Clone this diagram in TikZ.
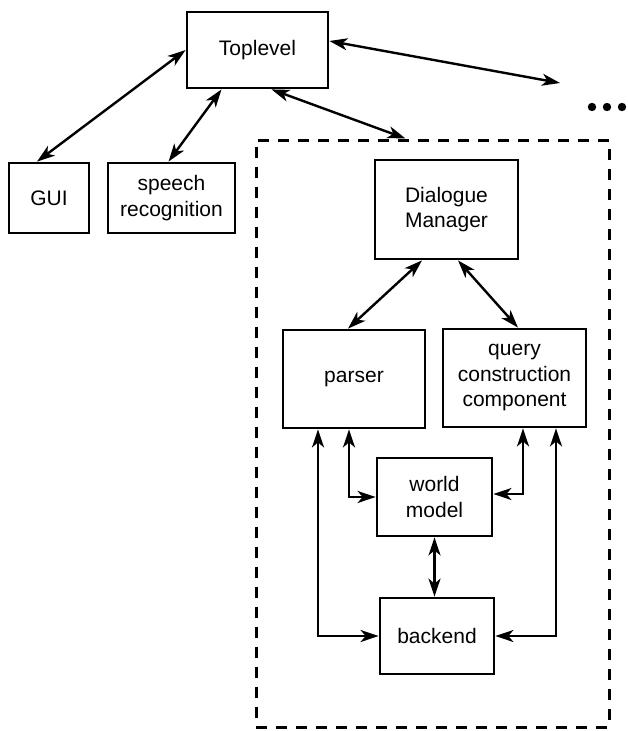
\documentclass[tikz,border=0pt]{standalone}
\usepackage{fontspec}
\setmainfont{Liberation Sans}
\usetikzlibrary{arrows.meta,calc}
\begin{document}
\begin{tikzpicture}[x=1pt,y=-1pt,
  box/.style={draw,line width=2.8pt,rectangle,inner sep=0pt,align=center,
    font=\fontsize{21}{25.5}\selectfont},
  conn/.style={line width=2.4pt,{Stealth[length=18pt,width=12pt,inset=5pt]}-{Stealth[length=18pt,width=12pt,inset=5pt]}},
  grp/.style={draw,line width=3pt,dash pattern=on 11pt off 9pt,rectangle,inner sep=0pt}]
\useasboundingbox (0,0) rectangle (627,731);
\node[grp,minimum width=353pt,minimum height=587pt] (group) at (432.5,433.5) {};
\node[box,minimum width=141pt,minimum height=76pt] (top) at (257.5,50) {Toplevel};
\node[box,minimum width=80pt,minimum height=70pt] (gui) at (49,198) {GUI};
\node[box,minimum width=127pt,minimum height=70pt] (speech) at (171.5,198) {speech\\recognition};
\node[box,minimum width=143pt,minimum height=99pt] (dm) at (446.5,209.5) {Dialogue\\Manager};
\node[box,minimum width=142pt,minimum height=98pt] (parser) at (354,379) {parser};
\node[box,minimum width=143pt,minimum height=98pt] (query) at (514.5,378) {query\\construction\\component};
\node[box,minimum width=115pt,minimum height=78pt] (world) at (434.5,497) {world\\model};
\node[box,minimum width=114pt,minimum height=76pt] (backend) at (437,636) {backend};
\coordinate (more) at (560,83);
\foreach \xx in {592,607,622} \fill (\xx,107) circle (4.2pt);
\draw[conn] (top.west) -- ([xshift=-12pt]gui.north);
\draw[conn] ([xshift=-36pt]top.south) -- ([xshift=-3pt]speech.north);
\draw[conn] ([xshift=14pt]top.south) -- ([xshift=-27pt]group.north);
\draw[conn] ([yshift=9pt]top.east) -- (more);
\draw[conn] ([xshift=-24.5pt]dm.south) -- ([xshift=-6pt]parser.north);
\draw[conn] ([xshift=11.5pt]dm.south) -- ([xshift=3.5pt]query.north);
\draw[conn] ([xshift=-5pt]parser.south) |- (world.west);
\draw[conn] ([xshift=8.5pt]query.south) |- ([yshift=3pt]world.east);
\draw[conn] ([xshift=-36pt]parser.south) |- (backend.west);
\draw[conn] ([xshift=41.5pt]query.south) |- (backend.east);
\draw[conn] (world.south) -- (world.south |- backend.north);
\end{tikzpicture}
\end{document}
